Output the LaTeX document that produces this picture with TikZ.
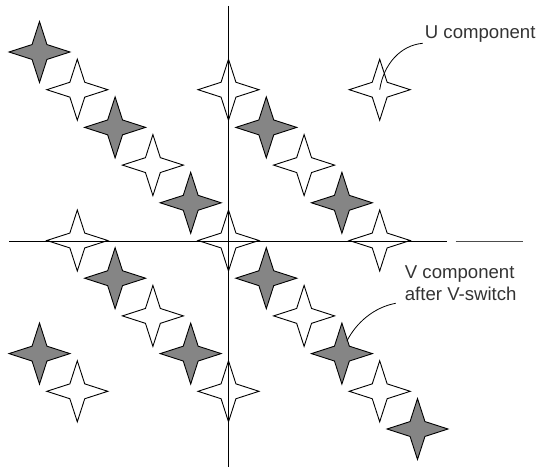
\documentclass[tikz,border=0pt]{standalone}
\usepackage{fontspec}
\setmainfont{Liberation Sans}
\usepackage{tikz}
\usetikzlibrary{positioning,shapes.geometric,calc}
\definecolor{starfill}{HTML}{858585}
\definecolor{labtext}{HTML}{333333}

\begin{document}
\begin{tikzpicture}[
  x=1pt,y=-1pt,
  sp/.style={star,star points=4,star point ratio=2.9,minimum size=61pt,inner sep=0pt,
             draw=black,line width=0.9pt},
  gstar/.style={sp,fill=starfill},
  wstar/.style={sp,fill=white},
  axis/.style={line width=0.9pt,black},
  lab/.style={inner sep=0pt,align=left,text=labtext,font=\fontsize{18.6}{22}\selectfont},
  lead/.style={line width=0.8pt,black}
]
\useasboundingbox (0,0) rectangle (538,468);
% stars on the grid
\foreach \i/\j in {0/0,2/2,4/4,6/2,8/4,2/6,4/8,6/6,8/8,0/8,10/10}
  \node[gstar] (g\i\j) at ({39.5+37.8*\i},{52+37.7*\j}) {};
\foreach \i/\j in {1/1,3/3,5/1,7/3,9/1,1/5,5/5,9/5,3/7,7/7,1/9,5/9,9/9}
  \node[wstar] (w\i\j) at ({39.5+37.8*\i},{52+37.7*\j}) {};
% axes
\coordinate (vtop) at (228.7,6);
\coordinate (vbot) at (228.7,467);
\coordinate (hl) at (9.3,241);
\coordinate (hr) at (447.3,241);
\coordinate (el) at (455.7,241);
\coordinate (er) at (523,241);
\draw[axis] (vtop) -- (vbot);
\draw[axis] (hl) -- (hr);
\draw[axis,black!70] (el) -- (er);
% labels
\node[lab,anchor=base west] (ulab) at (424.7,38.3) {U component};
\node[lab,anchor=base west] (vlab) at (404.7,300.7) {V component\\after V-switch};
\coordinate (ufoot) at ($(ulab.base west)+(-2,5)$);
\coordinate (vfoot) at ($(vlab.base west)+(-9,2.6)$);
\coordinate (vend) at ($(g88.center)+(5,-12.5)$);
\draw[lead] (ufoot) .. controls +(-22,2) and +(4,-26) .. (w91.center);
\draw[lead] (vfoot) .. controls +(-22,4) and +(9,-18) .. (vend);
\end{tikzpicture}
\end{document}
